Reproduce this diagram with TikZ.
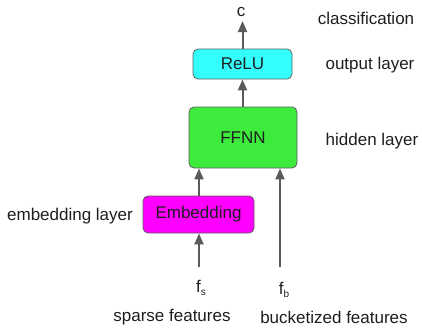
\documentclass[tikz,border=0pt]{standalone}
\usepackage{fontspec}
\setmainfont{Liberation Sans}
\usetikzlibrary{arrows.meta}
\definecolor{edgegray}{RGB}{95,95,95}
\definecolor{arrgray}{RGB}{90,90,90}
\definecolor{txt}{RGB}{30,30,30}
\definecolor{cyanfill}{RGB}{51,255,255}
\definecolor{greenfill}{RGB}{60,235,60}
\definecolor{magfill}{RGB}{255,0,255}
\newcommand{\smallsub}[1]{\raisebox{-2.5pt}{\fontsize{10}{10}\selectfont #1}}
\tikzset{
  layerbox/.style={draw=edgegray, line width=0.8pt, rounded corners=5pt, inner sep=0pt, font=\fontsize{17}{18}\selectfont, text=txt},
  lbl/.style={font=\fontsize{17}{18}\selectfont, text=txt, inner sep=0pt},
  conn/.style={draw=arrgray, line width=2pt, -{Triangle[length=11pt,width=9pt]}}
}
\begin{document}
\begin{tikzpicture}[x=1pt,y=-1pt]
\useasboundingbox (0,0) rectangle (422,330);
\node[layerbox, fill=cyanfill, minimum width=99pt, minimum height=30pt] (relu) at (242.5,64) {ReLU};
\node[layerbox, fill=greenfill, minimum width=108pt, minimum height=61pt] (ffnn) at (243,137.5) {FFNN};
\node[layerbox, fill=magfill, minimum width=111pt, minimum height=37pt] (emb) at (198.5,214.5) {Embedding};
\node[lbl] (c) at (241,12) {c};
\node[lbl] (fs) at (201,288) {f\smallsub{s}};
\node[lbl] (fb) at (284,290) {f\smallsub{b}};
\coordinate (fsend) at (199,267);
\coordinate (fbend) at (280,267);
\coordinate (cend) at (242.5,21);
\node[lbl] (cls) at (366,18) {classification};
\node[lbl] (outl) at (370,65) {output layer};
\node[lbl] (hidl) at (372,141) {hidden layer};
\node[lbl] (embl) at (70,216) {embedding layer};
\node[lbl] (spf) at (172,317) {sparse features};
\node[lbl] (bkf) at (334,317) {bucketized features};
\draw[conn] (fsend) -- (fsend |- emb.south);
\draw[conn] (fsend |- emb.north) -- (fsend |- ffnn.south);
\draw[conn] (fbend) -- (fbend |- ffnn.south);
\draw[conn] (ffnn.north -| relu.south) -- (relu.south);
\draw[conn] (relu.north) -- (cend);
\end{tikzpicture}
\end{document}
